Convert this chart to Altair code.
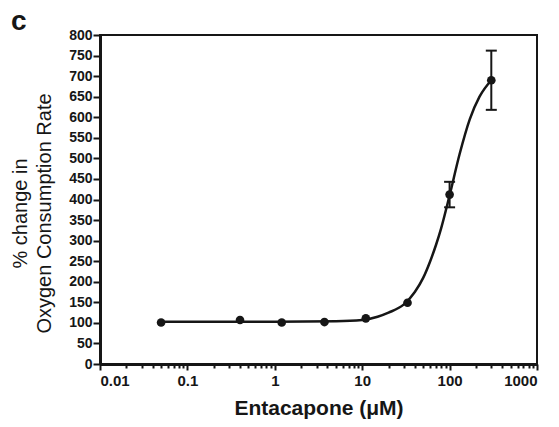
import altair as alt
import pandas as pd

# Measured oxygen consumption (mean ± SEM) at each entacapone concentration
conc = [0.05, 0.4, 1.2, 3.7, 11, 33, 100, 300]
ocr = [101, 107, 101, 102, 111, 149, 412, 690]
sem = [0, 0, 0, 0, 0, 0, 31, 72]

# Fitted dose-response curve
fit_x = [0.05, 1, 5, 10, 15, 20, 30, 40, 50, 60, 70, 80, 100, 130, 170, 220, 300]
fit_y = [103, 103, 104, 107, 115, 125, 145, 175, 210, 250, 290, 330, 410, 510, 595, 650, 690]

# Axis ticks: decades labelled, intermediate values as minor ticks
decades = [0.01, 0.1, 1, 10, 100, 1000]
x_ticks = []
for d in decades[:-1]:
    x_ticks += [d * k for k in range(1, 10)]
x_ticks.append(decades[-1])
y_ticks = list(range(0, 801, 50))

pts = pd.DataFrame({"conc": conc, "ocr": ocr, "sem": sem})
pts["lo"] = pts["ocr"] - pts["sem"]
pts["hi"] = pts["ocr"] + pts["sem"]
bars = pts[pts["sem"] > 0]
fit = pd.DataFrame({"conc": fit_x, "ocr": fit_y})

is_decade = "abs(log(datum.value)/LN10 - round(log(datum.value)/LN10)) < 1e-6"
INK = "#161616"

x_axis = alt.Axis(
    title="Entacapone (\u03bcM)",
    values=x_ticks,
    labelExpr=f"({is_decade}) ? format(datum.value, '') : ''",
    labelOverlap=False,
    labelFont="Liberation Sans",
    labelFontWeight="bold",
    labelFontSize=15,
    labelColor=INK,
    labelPadding=3,
    tickSize={"condition": {"test": is_decade, "value": 6}, "value": 4},
    tickWidth=2,
    tickColor=INK,
    domainWidth=3,
    domainColor=INK,
    titleFont="Liberation Sans",
    titleFontSize=21,
    titleFontWeight="bold",
    titleColor=INK,
    titlePadding=9,
    grid=False,
)
y_axis = alt.Axis(
    title=["% change in", "Oxygen Consumption Rate"],
    values=y_ticks,
    labelFont="Liberation Sans",
    labelFontWeight="bold",
    labelFontSize=14,
    labelColor=INK,
    labelPadding=1,
    labelOverlap=False,
    tickSize=7,
    tickWidth=2,
    tickColor=INK,
    domainWidth=3,
    domainColor=INK,
    titleFont="Liberation Sans",
    titleFontSize=20,
    titleFontWeight="normal",
    titleColor=INK,
    titleLineHeight=24,
    titlePadding=14,
    titleY=178,
    grid=False,
)

x_scale = alt.Scale(type="log", domain=[0.01, 1000], nice=False)
y_scale = alt.Scale(domain=[0, 800], nice=False)

curve = alt.Chart(fit).mark_line(
    color=INK, strokeWidth=2.5, interpolate="monotone"
).encode(
    x=alt.X("conc:Q", scale=x_scale, axis=x_axis),
    y=alt.Y("ocr:Q", scale=y_scale, axis=y_axis),
)

dots = alt.Chart(pts).mark_point(
    filled=True, shape="circle", size=75, color=INK, opacity=1
).encode(
    x=alt.X("conc:Q", scale=x_scale, axis=x_axis),
    y=alt.Y("ocr:Q", scale=y_scale, axis=y_axis),
)

whiskers = alt.Chart(bars).mark_rule(color=INK, strokeWidth=2).encode(
    x=alt.X("conc:Q", scale=x_scale, axis=x_axis),
    y=alt.Y("lo:Q", scale=y_scale, axis=y_axis),
    y2="hi:Q",
)

caps_lo = alt.Chart(bars).mark_tick(
    color=INK, thickness=2, size=11, orient="horizontal", opacity=1
).encode(
    x=alt.X("conc:Q", scale=x_scale, axis=x_axis),
    y=alt.Y("lo:Q", scale=y_scale, axis=y_axis),
)
caps_hi = alt.Chart(bars).mark_tick(
    color=INK, thickness=2, size=11, orient="horizontal", opacity=1
).encode(
    x=alt.X("conc:Q", scale=x_scale, axis=x_axis),
    y=alt.Y("hi:Q", scale=y_scale, axis=y_axis),
)

chart = (
    alt.layer(curve, whiskers, caps_lo, caps_hi, dots)
    .properties(
        width=437,
        height=329,
        title=alt.TitleParams(
            "c",
            anchor="start",
            frame="group",
            font="Liberation Sans",
            fontSize=28,
            fontWeight="bold",
            color=INK,
            baseline="alphabetic",
            offset=8,
            dx=-89,
            dy=38,
        ),
        autosize=alt.AutoSizeParams(type="none"),
        padding={"left": 100, "top": 35, "right": 22, "bottom": 63},
        background="white",
    )
    .configure_view(stroke=INK, strokeWidth=2)
)

chart.save("out.html", embed_options={"renderer": "svg", "actions": False})
